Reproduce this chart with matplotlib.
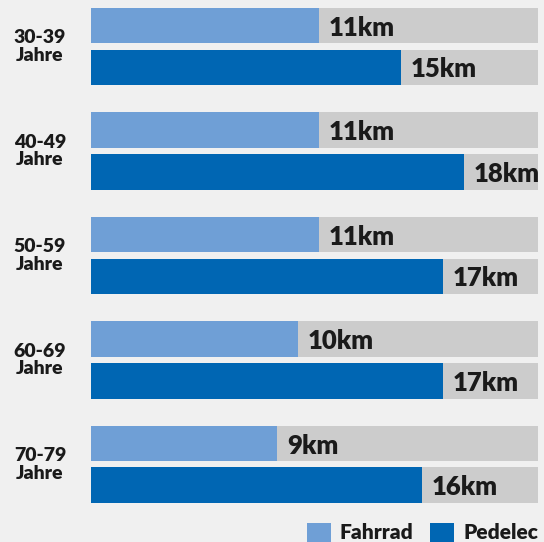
import matplotlib
matplotlib.use("Agg")
import matplotlib.pyplot as plt
from matplotlib.patches import Patch
from matplotlib.transforms import blended_transform_factory
import numpy as np

groups = ["30-39\nJahre", "40-49\nJahre", "50-59\nJahre", "60-69\nJahre", "70-79\nJahre"]
fahrrad = [11, 11, 11, 10, 9]
pedelec = [15, 18, 17, 17, 16]
series_names = ["Fahrrad", "Pedelec"]
full_scale = 21.6

BG = "#f0f0f0"
GREY = "#cccccc"
LIGHT = "#6f9fd6"
DARK = "#0066b3"
TXT = "#1a1a1a"
FONT = "Lato"

fig = plt.figure(figsize=(5.44, 5.42), dpi=100, facecolor=BG)
ax = fig.add_axes([91 / 544, 0, (538 - 91) / 544, 1])
ax.set_facecolor(BG)
ax.set_xlim(0, full_scale)
ax.set_ylim(4.742, -0.445)
ax.axis("off")

y = np.arange(len(groups))
off = 0.199
h = 0.34

for vals, color, sgn in [(fahrrad, LIGHT, -1), (pedelec, DARK, 1)]:
    pos = y + sgn * off
    ax.barh(pos, [full_scale] * len(vals), height=h, color=GREY, left=0)
    ax.barh(pos, vals, height=h, color=color, left=0)
    for p, v in zip(pos, vals):
        ax.annotate(f"{v}km", xy=(v, p), xytext=(7, 0), textcoords="offset points",
                    ha="left", va="center_baseline", fontsize=18.5, fontweight="heavy",
                    color=TXT, family=FONT)

tr = blended_transform_factory(fig.transFigure, ax.transData)
for yi, g in zip(y, groups):
    fig.text(40 / 544, yi, g, transform=tr, ha="center", va="center", fontsize=14,
             fontweight="heavy", color=TXT, family=FONT, linespacing=1.05)

handles = [Patch(facecolor=LIGHT, edgecolor="none"), Patch(facecolor=DARK, edgecolor="none")]
leg = fig.legend(handles, series_names, loc="lower right", bbox_to_anchor=(549 / 544, -0.02),
                 ncol=2, frameon=False, borderpad=0, handlelength=1.15, handleheight=1.06,
                 handletextpad=0.45, columnspacing=0.8,
                 prop={"family": FONT, "weight": "heavy", "size": 15})
for t in leg.get_texts():
    t.set_color(TXT)

fig.savefig("out.png", dpi=100, facecolor=BG)
